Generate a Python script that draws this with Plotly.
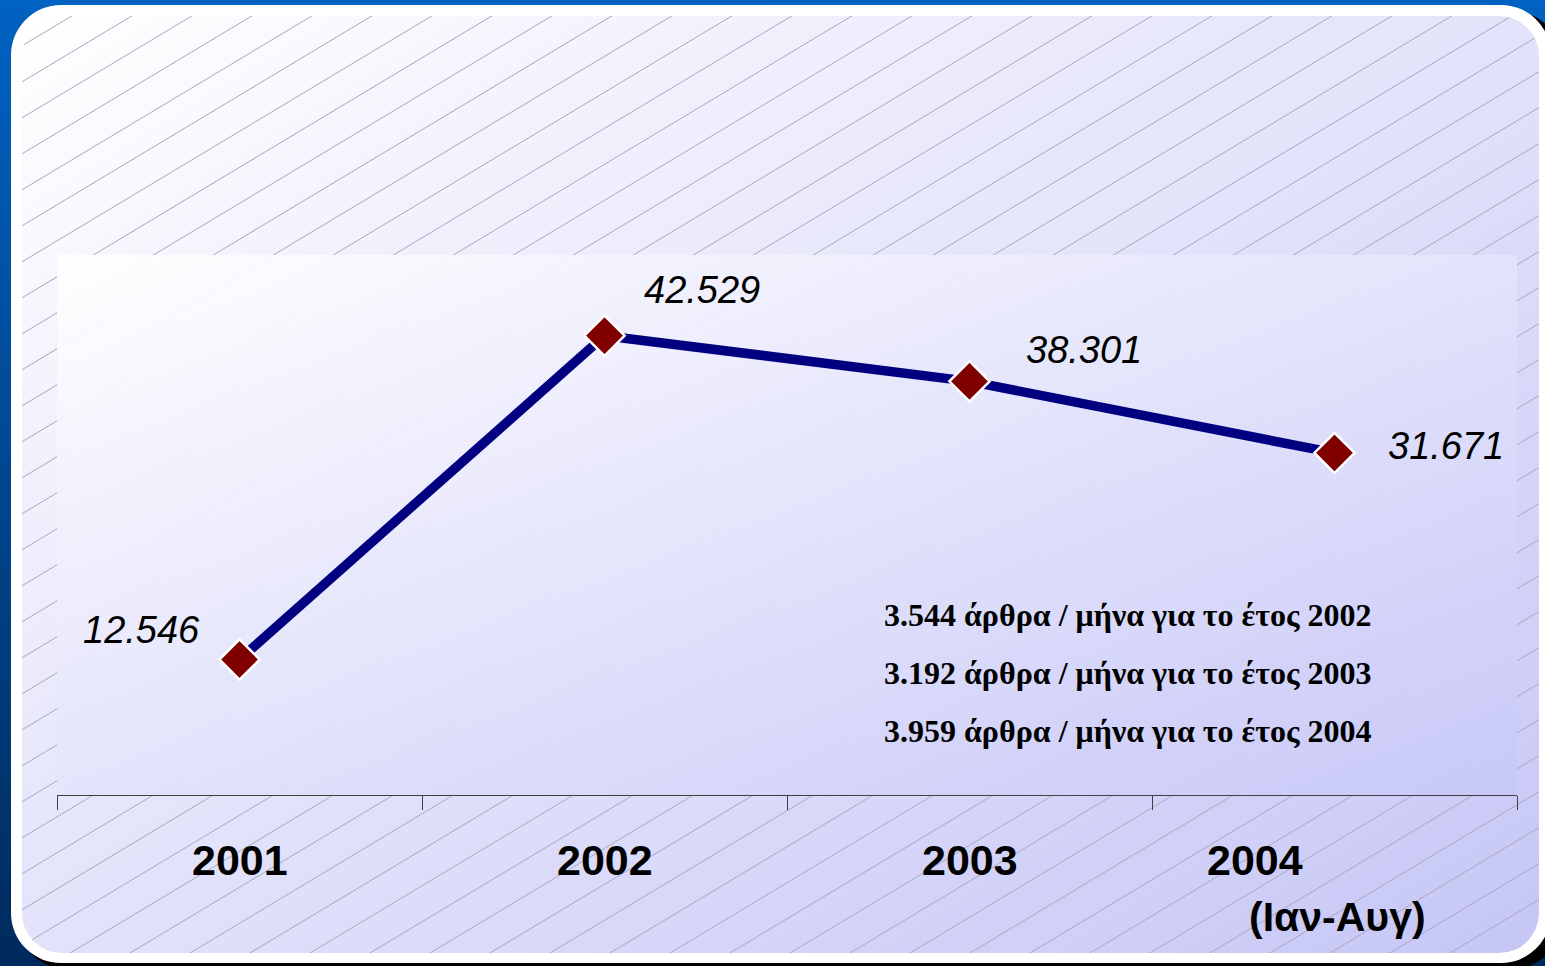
import base64
import plotly.graph_objects as go

# ---------------- data ----------------
years = ["2001", "2002", "2003", "2004"]
articles = [12546, 42529, 38301, 31671]
year_labels = ["2001", "2002", "2003", "2004"]
year_note = "(Ιαν-Αυγ)"
monthly_rates = ["3.544", "3.192", "3.959"]
monthly_years = ["2002", "2003", "2004"]

# ---------------- geometry / style ----------------
W, H = 1545, 966
ML, MR, MT, MB = 57, 28, 255, 171
PW, PH = W - ML - MR, H - MT - MB


def fmt(v):
    return f"{v:,}".replace(",", ".")


# decorative background (blue frame, rounded panel, gradients, hatching)
hatch = []
c = 59
while c < H + 0.6 * W + 40:
    hatch.append(f'<line x1="0" y1="{c}" x2="{W}" y2="{c - 0.6 * W:.1f}"/>')
    c += 36
svg = f'''<svg xmlns="http://www.w3.org/2000/svg" width="{W}" height="{H}" viewBox="0 0 {W} {H}">
<defs>
<linearGradient id="bg" x1="0" y1="0" x2="0" y2="1"><stop offset="0" stop-color="#0062C2"/><stop offset="1" stop-color="#002A5C"/></linearGradient>
<linearGradient id="pn" x1="0" y1="0" x2="1" y2="1"><stop offset="0" stop-color="#FFFFFF"/><stop offset="1" stop-color="#C6C6F6"/></linearGradient>
<linearGradient id="pa" x1="0" y1="0" x2="1" y2="1"><stop offset="0" stop-color="#FFFFFF"/><stop offset="1" stop-color="#C8C8F8"/></linearGradient>
<clipPath id="cp"><rect x="22" y="16" width="1517" height="937" rx="40" ry="40"/></clipPath>
</defs>
<rect x="0" y="0" width="{W}" height="{H}" fill="url(#bg)"/>
<rect x="17" y="11" width="1545" height="958" rx="50" ry="50" fill="#000000"/>
<rect x="11" y="5" width="1540" height="958" rx="50" ry="50" fill="#FFFFFF"/>
<rect x="22" y="16" width="1517" height="937" rx="40" ry="40" fill="url(#pn)"/>
<g clip-path="url(#cp)" stroke="#A8A8BC" stroke-width="1">{''.join(hatch)}</g>
<rect x="{ML}" y="{MT}" width="{PW}" height="{PH}" fill="url(#pa)" opacity="0.95"/>
</svg>'''
img_src = "data:image/svg+xml;base64," + base64.b64encode(svg.encode("utf-8")).decode("ascii")

fig = go.Figure()
fig.add_trace(go.Scatter(
    x=years, y=articles, mode="lines+markers",
    line=dict(color="#000080", width=9.5),
    marker=dict(symbol="diamond", size=31, color="#800000",
                line=dict(color="#FFFFFF", width=2.5)),
    hoverinfo="skip", showlegend=False,
))

annotations = []
# value labels
label_shift = [(-98, 30), (97, 46), (114, 31), (111, 7)]
for i, (v, (dx, dy)) in enumerate(zip(articles, label_shift)):
    annotations.append(dict(
        x=i, y=v, xref="x", yref="y", text=fmt(v), showarrow=False,
        xshift=dx, yshift=dy, xanchor="center", yanchor="middle",
        font=dict(family="Liberation Sans, Arial", size=38, color="#000000", style="italic"),
    ))

# category labels
cat_shift = [0, 0, 0, -80]
for i, (lab, dx) in enumerate(zip(year_labels, cat_shift)):
    annotations.append(dict(
        x=i, y=(795 - 860) / PH, xref="x", yref="paper", text=lab, showarrow=False,
        xshift=dx, xanchor="center", yanchor="middle",
        font=dict(family="Liberation Sans, Arial", size=43, color="#000000", weight="bold"),
    ))
annotations.append(dict(
    x=len(years) - 1, y=(795 - 917) / PH, xref="x", yref="paper", text=year_note, showarrow=False,
    xshift=3, xanchor="center", yanchor="middle",
    font=dict(family="Liberation Sans, Arial", size=41, color="#000000", weight="bold"),
))

# monthly rate notes
for i, (r, yy) in enumerate(zip(monthly_rates, monthly_years)):
    annotations.append(dict(
        x=(882 - ML) / PW, y=(795 - (615 + 58 * i)) / PH, xref="paper", yref="paper",
        text=f"{r} άρθρα / μήνα για το έτος {yy}", showarrow=False,
        xanchor="left", yanchor="middle",
        font=dict(family="Liberation Serif, Times New Roman", size=32, color="#000000", weight="bold"),
    ))

fig.update_layout(
    width=W, height=H,
    margin=dict(l=ML, r=MR, t=MT, b=MB, pad=0),
    paper_bgcolor="#0050A0",
    plot_bgcolor="rgba(0,0,0,0)",
    images=[dict(
        source=img_src, xref="paper", yref="paper",
        x=-ML / PW, y=1 + MT / PH, sizex=W / PW, sizey=H / PH,
        xanchor="left", yanchor="top", sizing="stretch", layer="below",
    )],
    xaxis=dict(
        type="category", range=[-0.5, 3.5], showgrid=False, zeroline=False,
        showline=True, linecolor="#404040", linewidth=1,
        ticks="outside", ticklen=14, tickcolor="#404040", tickwidth=1,
        tickson="boundaries", showticklabels=False, fixedrange=True,
    ),
    yaxis=dict(range=[0, 50000], visible=False, fixedrange=True),
    annotations=annotations,
)

fig.write_html(
    "out.html",
    config={"displayModeBar": False},
    post_script="document.body.style.margin='0';document.body.style.overflow='hidden';",
)
